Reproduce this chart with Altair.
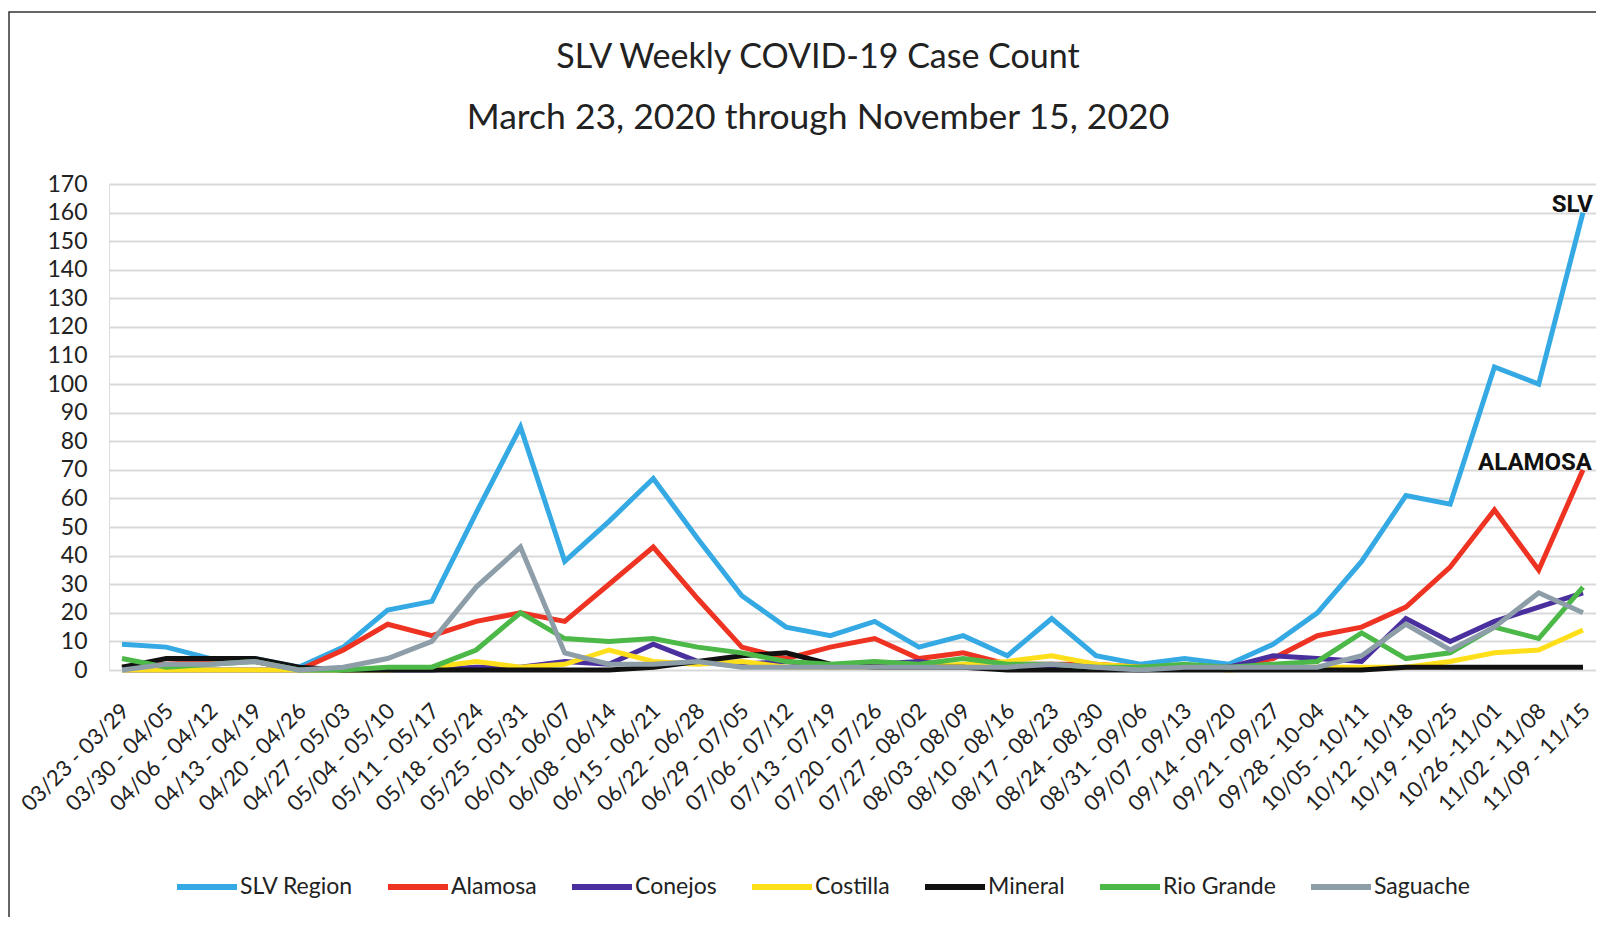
import altair as alt
import pandas as pd

weeks = ["03/23 - 03/29", "03/30 - 04/05", "04/06 - 04/12", "04/13 - 04/19", "04/20 - 04/26",
         "04/27 - 05/03", "05/04 - 05/10", "05/11 - 05/17", "05/18 - 05/24", "05/25 - 05/31",
         "06/01 - 06/07", "06/08 - 06/14", "06/15 - 06/21", "06/22 - 06/28", "06/29 - 07/05",
         "07/06 - 07/12", "07/13 - 07/19", "07/20 - 07/26", "07/27 - 08/02", "08/03 - 08/09",
         "08/10 - 08/16", "08/17 - 08/23", "08/24 - 08/30", "08/31 - 09/06", "09/07 - 09/13",
         "09/14 - 09/20", "09/21 - 09/27", "09/28 - 10-04", "10/05 - 10/11", "10/12 - 10/18",
         "10/19 - 10/25", "10/26 -11/01", "11/02 - 11/08", "11/09 - 11/15"]

slv_region = [9, 8, 4, 4, 1, 8, 21, 24, 55, 85, 38, 52, 67, 46, 26, 15, 12, 17, 8, 12,
              5, 18, 5, 2, 4, 2, 9, 20, 38, 61, 58, 106, 100, 160]
alamosa = [1, 2, 3, 3, 0, 7, 16, 12, 17, 20, 17, 30, 43, 25, 8, 4, 8, 11, 4, 6,
           2, 2, 2, 1, 1, 1, 4, 12, 15, 22, 36, 56, 35, 70]
conejos = [0, 0, 0, 0, 0, 0, 0, 0, 1, 1, 3, 2, 9, 3, 2, 3, 1, 2, 3, 1,
           1, 1, 1, 0, 1, 1, 5, 4, 3, 18, 10, 17, 22, 27]
costilla = [0, 0, 0, 0, 0, 0, 0, 1, 3, 1, 2, 7, 3, 2, 3, 1, 1, 1, 1, 2,
            3, 5, 2, 1, 1, 0, 1, 1, 1, 1, 3, 6, 7, 14]
mineral = [1, 4, 4, 4, 1, 0, 0, 0, 0, 0, 0, 0, 1, 3, 5, 6, 2, 1, 1, 1,
           0, 0, 0, 0, 0, 0, 0, 0, 0, 1, 1, 1, 1, 1]
rio_grande = [4, 1, 2, 3, 0, 0, 1, 1, 7, 20, 11, 10, 11, 8, 6, 3, 2, 3, 2, 4,
              2, 2, 1, 1, 2, 1, 2, 3, 13, 4, 6, 15, 11, 29]
saguache = [0, 2, 2, 3, 0, 1, 4, 10, 29, 43, 6, 2, 2, 3, 1, 1, 1, 1, 1, 1,
            1, 2, 1, 0, 1, 1, 1, 1, 5, 16, 7, 15, 27, 20]

series_names = ["SLV Region", "Alamosa", "Conejos", "Costilla", "Mineral", "Rio Grande", "Saguache"]
series_values = [slv_region, alamosa, conejos, costilla, mineral, rio_grande, saguache]
series_colors = ["#34a9e3", "#ee3322", "#4a2f9e", "#ffdf1a", "#111111", "#4cb848", "#8d9ea9"]

title_lines = ["SLV Weekly COVID-19 Case Count", "March 23, 2020 through November 15, 2020"]

y_ticks = list(range(0, 171, 10))

rows = []
for name, vals in zip(series_names, series_values):
    for w, v in zip(weeks, vals):
        rows.append({"week": w, "series": name, "value": v})
df = pd.DataFrame(rows)

FONT = "Lato"
W, H = 1487, 486

x_enc = alt.X("week:N", sort=weeks,
              scale=alt.Scale(type="point", padding=0.294),
              axis=alt.Axis(title=None, labelAngle=-45, labelFont=FONT, labelFontSize=22,
                            labelColor="#222222", labelPadding=30, labelOffset=-4,
                            domain=False, ticks=False, grid=False, labelOverlap=False))
y_enc = alt.Y("value:Q",
              scale=alt.Scale(domain=[0, 170], nice=False, zero=True),
              axis=alt.Axis(title=None, values=y_ticks, tickCount=18, labelFont=FONT,
                            labelFontSize=23, labelColor="#222222", labelPadding=22,
                            domain=False, ticks=False, grid=True, gridColor="#d9d9d9",
                            gridWidth=2, labelOverlap=False))

lines = alt.Chart(df).mark_line(strokeWidth=5, strokeJoin="miter").encode(
    x=x_enc,
    y=y_enc,
    color=alt.Color("series:N",
                    scale=alt.Scale(domain=series_names, range=series_colors),
                    sort=series_names,
                    legend=alt.Legend(title=None, orient="none", direction="horizontal",
                                      legendX=65, legendY=670, symbolType="stroke",
                                      symbolSize=3600, symbolStrokeWidth=6,
                                      labelFont=FONT, labelFontSize=23, labelColor="#222222",
                                      labelOffset=0, columnPadding=23, padding=0)),
)

slv_df = pd.DataFrame({"week": [weeks[-1]], "value": [slv_region[-1]], "label": ["SLV"]})
ala_df = pd.DataFrame({"week": [weeks[-1]], "value": [alamosa[-1]], "label": ["ALAMOSA"]})

slv_text = alt.Chart(slv_df).mark_text(align="right", baseline="alphabetic", dx=10, dy=-1,
                                       font="Roboto", fontWeight="bold", fontSize=24,
                                       color="#111111").encode(
    x=x_enc, y=y_enc, text="label:N")
ala_text = alt.Chart(ala_df).mark_text(align="right", baseline="alphabetic", dx=9, dy=0,
                                       font="Roboto", fontWeight="bold", fontSize=24,
                                       color="#111111").encode(
    x=x_enc, y=y_enc, text="label:N")

title1 = alt.Chart(pd.DataFrame({"t": [title_lines[0]]})).mark_text(
    font=FONT, fontSize=34, color="#222222", align="center", baseline="middle").encode(
    x=alt.value(709), y=alt.value(-126), text="t:N")
title2 = alt.Chart(pd.DataFrame({"t": [title_lines[1]]})).mark_text(
    font=FONT, fontSize=35.5, color="#222222", align="center", baseline="middle").encode(
    x=alt.value(709), y=alt.value(-66), text="t:N")

frame = alt.Chart(pd.DataFrame({"a": [0]})).mark_rect(
    fillOpacity=0, stroke="#333333", strokeWidth=1.5, clip=False).encode(
    x=alt.value(-100), x2=alt.value(1700), y=alt.value(-172), y2=alt.value(1000))

chart = alt.layer(frame, title1, title2, lines, slv_text, ala_text).properties(
    width=W, height=H,
    autosize=alt.AutoSizeParams(type="none"),
    padding={"left": 101, "top": 176, "right": 0, "bottom": 247},
).configure_view(strokeWidth=0).configure(background="white")

chart.save("out.html", embed_options={"renderer": "svg", "actions": False})
